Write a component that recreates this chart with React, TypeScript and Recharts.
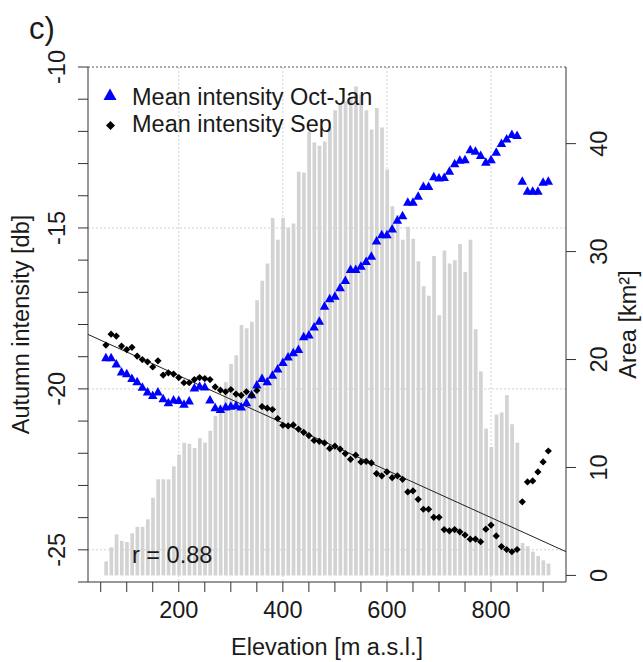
import {
  Bar,
  CartesianGrid,
  ComposedChart,
  ReferenceLine,
  Scatter,
  XAxis,
  YAxis,
} from "recharts";

// elevation bands [m a.s.l.]
const elevation = [
  60, 70, 80, 90, 100, 110, 120, 130, 140, 150,
  160, 170, 180, 190, 200, 210, 220, 230, 240, 250,
  260, 270, 280, 290, 300, 310, 320, 330, 340, 350,
  360, 370, 380, 390, 400, 410, 420, 430, 440, 450,
  460, 470, 480, 490, 500, 510, 520, 530, 540, 550,
  560, 570, 580, 590, 600, 610, 620, 630, 640, 650,
  660, 670, 680, 690, 700, 710, 720, 730, 740, 750,
  760, 770, 780, 790, 800, 810, 820, 830, 840, 850,
  860, 870, 880, 890, 900, 910,
];

// area per band [km²]
const areaKm2 = [
  1.3, 2.6, 3.8, 3.2, 3.1, 3.9, 4.5, 4.5, 5.2, 7.2,
  8.9, 8.9, 8.9, 10.1, 11.2, 12.3, 12.2, 11.8, 12.7, 12.3,
  13.4, 14.8, 15.8, 17.9, 19.6, 20.4, 23.2, 22.9, 23.5, 25.5,
  27.3, 28.9, 33.1, 31.1, 33.1, 32.2, 32.6, 37.4, 37.3, 41.1,
  40.1, 39.8, 40.2, 41.5, 43.1, 43.6, 43.9, 44.1, 45.3, 44.5,
  43.1, 41.3, 43.3, 41.5, 37.6, 34.2, 33.4, 31.1, 32.3, 31.2,
  29.1, 26.8, 25.9, 29.6, 24.1, 30.1, 28.9, 29.2, 30.7, 28.1,
  31.1, 22.8, 18.9, 13.6, 11.9, 14.9, 15.1, 16.7, 14.0, 12.3,
  3.0, 2.7, 2.2, 1.8, 1.4, 1.1,
];

// mean intensity Oct-Jan [db]
const octJan = [
  -19.05, -19.05, -19.25, -19.5, -19.55, -19.7, -19.8, -19.97, -20.12, -20.23,
  -20.12, -20.33, -20.45, -20.37, -20.38, -20.5, -20.4, -19.99, -19.94, -19.96,
  -20.37, -20.61, -20.66, -20.58, -20.56, -20.54, -20.58, -20.45, -20.2, -19.9,
  -19.7, -19.8, -19.6, -19.4, -19.2, -19.03, -18.9, -18.8, -18.4, -18.35,
  -18.1, -17.92, -17.45, -17.22, -17.14, -16.88, -16.65, -16.31, -16.31, -16.21,
  -16.06, -15.9, -15.43, -15.23, -15.23, -15.05, -14.78, -14.64, -14.22, -14.22,
  -14.04, -13.73, -13.73, -13.43, -13.47, -13.45, -13.26, -13.03, -12.92, -12.9,
  -12.59, -12.64, -12.77, -12.98, -12.9, -12.67, -12.4, -12.26, -12.12, -12.15,
  -13.57, -13.88, -13.88, -13.88, -13.6, -13.57,
];

// mean intensity Sep [db]
const sep = [
  -18.64, -18.3, -18.36, -18.67, -18.78, -18.71, -18.98, -19.09, -19.16, -19.32,
  -19.13, -19.57, -19.5, -19.54, -19.65, -19.81, -19.81, -19.71, -19.65, -19.68,
  -19.71, -19.94, -20.04, -20.09, -20.02, -20.16, -20.2, -20.09, -20.2, -20.05,
  -20.55, -20.6, -20.64, -20.92, -21.13, -21.15, -21.12, -21.25, -21.35, -21.45,
  -21.6, -21.63, -21.68, -21.85, -21.78, -21.87, -22.01, -22.19, -22.06, -22.27,
  -22.25, -22.3, -22.63, -22.7, -22.58, -22.76, -22.7, -22.81, -23.2, -23.17,
  -23.43, -23.74, -23.74, -23.99, -23.99, -24.37, -24.41, -24.37, -24.44, -24.54,
  -24.67, -24.67, -24.75, -24.36, -24.23, -24.57, -24.9, -24.99, -25.06, -24.99,
  -23.51, -22.89, -22.86, -22.58, -22.27, -21.93,
];

// linear fit drawn through the Sep points
const fitIntercept = -18.12;
const fitSlope = -0.00735;

const xTicks = [
  50, 100, 150, 200, 250, 300, 350, 400, 450, 500,
  550, 600, 650, 700, 750, 800, 850, 900,
];
const xLabels = [200, 400, 600, 800];
const leftTicks = [
  -26, -25, -24, -23, -22, -21, -20, -19, -18, -17, -16, -15, -14, -13, -12, -11, -10,
];
const leftLabels = [-25, -20, -15, -10];
const rightTicks = [0, 10, 20, 30, 40];

const X_DOMAIN: [number, number] = [25.6, 944];
const LEFT_DOMAIN: [number, number] = [-26, -10];
const RIGHT_DOMAIN: [number, number] = [-0.61, 47.1];

const FONT = "'Liberation Sans', Arial, Helvetica, sans-serif";
const FS = 23.5;
const INK = "#1a1a1a";
const AXIS = "#333";

const rows = elevation.map((e, i) => ({
  elev: e,
  area: areaKm2[i],
  oct: octJan[i],
  sep: sep[i],
}));

function XTick({ x, y, payload }: any) {
  if (!xLabels.includes(payload.value)) return null;
  return (
    <text x={x} y={y + 26} textAnchor="middle" fontSize={FS} fontFamily={FONT} fill={INK}>
      {payload.value}
    </text>
  );
}

function LeftTick({ x, y, payload }: any) {
  if (!leftLabels.includes(payload.value)) return null;
  const px = x - 13;
  return (
    <text
      x={px}
      y={y}
      transform={`rotate(-90, ${px}, ${y})`}
      textAnchor="middle"
      fontSize={FS}
      fontFamily={FONT}
      fill={INK}
    >
      {payload.value}
    </text>
  );
}

function RightTick({ x, y, payload }: any) {
  const px = x + 31;
  return (
    <text
      x={px}
      y={y}
      transform={`rotate(-90, ${px}, ${y})`}
      textAnchor="middle"
      fontSize={FS}
      fontFamily={FONT}
      fill={INK}
    >
      {payload.value}
    </text>
  );
}

function Triangle({ cx, cy }: any) {
  if (cx == null || cy == null) return null;
  const w = 9.5;
  const h = 8.5;
  return (
    <polygon
      points={`${cx - w / 2},${cy + h / 3} ${cx + w / 2},${cy + h / 3} ${cx},${cy - (2 * h) / 3}`}
      fill="#0000ff"
    />
  );
}

function Diamond({ cx, cy }: any) {
  if (cx == null || cy == null) return null;
  const r = 3.6;
  return (
    <polygon
      points={`${cx},${cy - r} ${cx + r},${cy} ${cx},${cy + r} ${cx - r},${cy}`}
      fill="#000"
    />
  );
}

const leftTitle = (props: any) => {
  const vb = props.viewBox;
  const px = vb.x + 29;
  const py = vb.y + vb.height / 2;
  return (
    <text x={px} y={py} transform={`rotate(-90, ${px}, ${py})`} textAnchor="middle"
      fontSize={FS} fontFamily={FONT} fill={INK}>
      Autumn intensity [db]
    </text>
  );
};

const rightTitle = (props: any) => {
  const vb = props.viewBox;
  const px = vb.x + 70;
  const py = vb.y + vb.height / 2;
  return (
    <text x={px} y={py} transform={`rotate(-90, ${px}, ${py})`} textAnchor="middle"
      fontSize={FS} fontFamily={FONT} fill={INK}>
      Area [km²]
    </text>
  );
};

const bottomTitle = (props: any) => {
  const vb = props.viewBox;
  return (
    <text x={vb.x + vb.width / 2} y={vb.y + 73} textAnchor="middle"
      fontSize={FS} fontFamily={FONT} fill={INK}>
      Elevation [m a.s.l.]
    </text>
  );
};

export default function App() {
  const fitStart = { x: X_DOMAIN[0], y: fitIntercept + fitSlope * X_DOMAIN[0] };
  const fitEnd = { x: X_DOMAIN[1], y: fitIntercept + fitSlope * X_DOMAIN[1] };

  return (
    <div style={{ position: "absolute", left: 0, top: 0, width: 643, height: 662, background: "#fff" }}>
      <ComposedChart
        width={643}
        height={662}
        data={rows}
        margin={{ top: 67, right: 0, bottom: 0, left: 0 }}
      >
        <CartesianGrid
          yAxisId="left"
          stroke="#d0d0d0"
          strokeDasharray="2 2"
          verticalValues={xLabels}
          horizontalValues={[-25, -20, -15]}
        />
        <XAxis
          type="number"
          dataKey="elev"
          domain={X_DOMAIN}
          allowDataOverflow
          ticks={xTicks}
          interval={0}
          tickSize={10}
          tickMargin={0}
          height={80}
          stroke={AXIS}
          tick={<XTick />}
          label={bottomTitle}
        />
        <YAxis
          yAxisId="left"
          orientation="left"
          type="number"
          domain={LEFT_DOMAIN}
          allowDataOverflow
          ticks={leftTicks}
          interval={0}
          tickSize={10}
          tickMargin={0}
          width={88}
          stroke={AXIS}
          tick={<LeftTick />}
          label={leftTitle}
        />
        <YAxis
          yAxisId="right"
          orientation="right"
          type="number"
          domain={RIGHT_DOMAIN}
          allowDataOverflow
          ticks={rightTicks}
          interval={0}
          tickSize={10}
          tickMargin={0}
          width={77}
          stroke={AXIS}
          tick={<RightTick />}
          label={rightTitle}
        />
        <Bar
          yAxisId="right"
          dataKey="area"
          fill="#d3d3d3"
          barSize={3.7}
          isAnimationActive={false}
        />
        <ReferenceLine
          yAxisId="left"
          y={-10}
          stroke="#555"
          strokeDasharray="2 2"
        />
        <ReferenceLine
          yAxisId="left"
          segment={[fitStart, fitEnd]}
          stroke="#222"
          strokeWidth={1}
        />
        <Scatter
          yAxisId="left"
          dataKey="oct"
          shape={<Triangle />}
          isAnimationActive={false}
        />
        <Scatter
          yAxisId="left"
          dataKey="sep"
          shape={<Diamond />}
          isAnimationActive={false}
        />
      </ComposedChart>
      <svg
        width={643}
        height={662}
        style={{ position: "absolute", left: 0, top: 0, pointerEvents: "none" }}
      >
        <text x={29} y={39} fontSize={31} fontFamily={FONT} fill={INK}>c)</text>
        <polygon points="103.5,100 116.5,100 110,88.5" fill="#0000ff" />
        <text x={132} y={105} fontSize={FS} fontFamily={FONT} fill={INK}>
          Mean intensity Oct-Jan
        </text>
        <polygon points="110.5,121 115,125.5 110.5,130 106,125.5" fill="#000" />
        <text x={132} y={131.7} fontSize={FS} fontFamily={FONT} fill={INK}>
          Mean intensity Sep
        </text>
        <text x={132} y={563.3} fontSize={FS} fontFamily={FONT} fill={INK}>
          r = 0.88
        </text>
      </svg>
    </div>
  );
}
